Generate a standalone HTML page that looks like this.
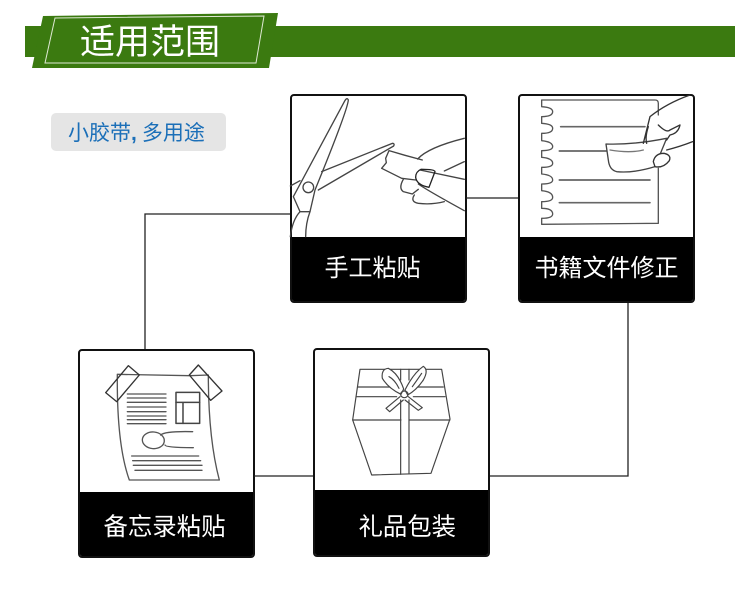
<!DOCTYPE html>
<html><head><meta charset="utf-8">
<style>
html,body{margin:0;padding:0;background:#fff}
body{width:750px;height:592px;position:relative;overflow:hidden;font-family:"Liberation Sans","Noto Sans CJK SC",sans-serif}
svg{position:absolute;left:0;top:0}
.t{position:absolute;color:#fff;white-space:nowrap;line-height:1}
.card{position:absolute;box-sizing:border-box;width:177px;height:209px;border:2px solid #111;border-radius:4px;background:#fff;overflow:hidden}
.card i{position:absolute;left:0;right:0;bottom:0;background:#000;display:block}
</style></head><body>
<div class="card" style="left:289.5px;top:94px"><i style="height:64px"></i></div>
<div class="card" style="left:517.5px;top:94px"><i style="height:64px"></i></div>
<div class="card" style="left:77.5px;top:349px"><i style="height:64px"></i></div>
<div class="card" style="left:313px;top:348px;height:209px"><i style="height:65px"></i></div>
<svg width="750" height="592" viewBox="0 0 750 592">
<rect x="25" y="26" width="710" height="31" fill="#3b7a10"/>
<polygon points="43,16 278,13 269,68 32,68" fill="#3b7a10"/>
<polygon points="55,18 264,16 256,63 45,63" fill="none" stroke="#dfe9d4" stroke-width="1"/>
<rect x="51" y="113" width="175" height="38" rx="5" fill="#e5e5e5"/>
<g fill="none" stroke="#222" stroke-width="1.3">
<path d="M290,214H145V349M466,198H518M628,303V476H490M254,476H313"/>
</g>
<g transform="translate(285,90) scale(.3333)" fill="none" stroke="#444" stroke-width="4" stroke-linejoin="round" stroke-linecap="round">
<path d="M25,320L178,35Q186,20 190,30Q188,60 90,300L75,365H45Z"/>
<circle cx="70" cy="292" r="16"/>
<path d="M16,288L45,272M110,245L322,160Q330,160 326,168L100,300"/>
<path d="M45,365Q22,390 16,440M75,365Q62,400 62,440"/>
<path d="M312,182L302,205L304,218L290,235L350,265L392,270M312,182L360,196L412,210"/>
<path d="M398,207Q430,172 538,145M478,243L538,215M405,240L538,268M400,282Q425,300 538,362"/>
<path d="M408,238Q450,238 450,245L432,292Q395,285 392,262Q392,245 408,238Z" stroke="#222"/>
<path d="M355,268Q340,295 355,305L382,312L400,298M388,315Q375,335 400,340Q440,345 478,335"/>
</g>
<g transform="translate(510,90) scale(.3333)" fill="none" stroke="#555" stroke-width="4" stroke-linejoin="round" stroke-linecap="round">
<path d="M95,30H435Q445,30 445,40V75M445,235V400L95,403V385Q128,385 128,372Q128,355 95,355V335Q128,335 128,322Q128,305 95,302V282Q128,282 128,270Q128,255 95,252V232Q128,232 128,220Q128,205 95,202V182Q128,182 128,170Q128,155 95,152V130Q128,130 128,115Q128,102 95,100V80Q128,80 128,65Q128,52 95,50V30"/>
<path d="M152,110H405M148,183H400M148,270H420M148,338H420" stroke-width="5" stroke="#666"/>
<path d="M288,162Q370,165 470,145L435,230Q370,250 320,245Q298,240 295,210Z" stroke="#444" fill="#fff"/>
<path d="M300,180Q360,190 400,180" stroke="#777"/>
<path d="M400,160L420,80Q470,40 540,15M415,110Q405,140 410,160M445,105Q470,130 480,120L510,105Q505,130 480,135L470,150M470,180Q510,170 548,155" stroke="#333"/>
<path d="M430,215Q435,190 462,190Q485,195 478,212Q460,235 435,230Z" stroke="#333" fill="#fff"/>
</g>
<g transform="translate(70,345) scale(.3333)" fill="none" stroke="#555" stroke-width="4" stroke-linejoin="round" stroke-linecap="round">
<path d="M142,88L360,92L415,90Q415,280 448,405L178,405Q140,300 142,88Z"/>
<path d="M175,62L208,90L140,170L107,143Z M385,60L456,138L422,166L358,90Z" stroke="#333"/>
<path d="M172,147H288M172,159H288M172,172H288M172,186H288M172,200H288M172,213H288M172,224H288M172,236H288" stroke-width="4"/>
<rect x="318" y="142" width="71" height="93" stroke="#444" stroke-width="4.5"/>
<path d="M318,172H389M339,172V235" stroke="#444" stroke-width="4.5"/>
<ellipse cx="250" cy="286" rx="33" ry="25" transform="rotate(5 250 286)"/>
<path d="M272,270Q285,258 368,260M285,300Q285,308 370,308"/>
<path d="M185,333H386M188,347H392M190,361H396M195,376H396" stroke-width="4"/>
</g>
<g transform="translate(305,345) scale(.3333)" fill="none" stroke="#444" stroke-width="3.5" stroke-linejoin="round" stroke-linecap="round">
<path d="M165,73H410L435,222L378,385L200,390L143,225Z"/>
<path d="M143,225H288M312,225H435M158,126H262M335,126H415M153,155H275M325,155H420"/>
<path d="M287,165V388M312,165V385M287,73V105M312,73V105"/>
<path d="M288,148Q250,130 232,100Q228,72 250,70Q280,85 296,132Z" fill="#fff"/>
<path d="M252,95Q270,105 282,130"/>
<path d="M300,135Q325,85 355,64Q372,75 355,105Q335,135 308,150Z" fill="#fff"/>
<path d="M322,125Q340,100 350,85"/>
<ellipse cx="298" cy="148" rx="11" ry="10"/>
<path d="M285,155L243,190L254,200L295,165M310,155L352,188L340,196L300,165"/>
</g>
</svg>
<div class="t" style="left:80px;top:25px;font-size:35px">适用范围</div>
<div class="t" style="left:68px;top:123px;font-size:21px;color:#1b6fb8">小胶带<span style="font-weight:bold;margin-right:5px">,</span>多用途</div>
<div class="t" style="left:324.5px;top:257px;font-size:24px">手工粘贴</div>
<div class="t" style="left:534.5px;top:257px;font-size:24px">书籍文件修正</div>
<div class="t" style="left:103.5px;top:516px;font-size:24.4px">备忘录粘贴</div>
<div class="t" style="left:358.5px;top:516px;font-size:24.4px">礼品包装</div>
</body></html>
